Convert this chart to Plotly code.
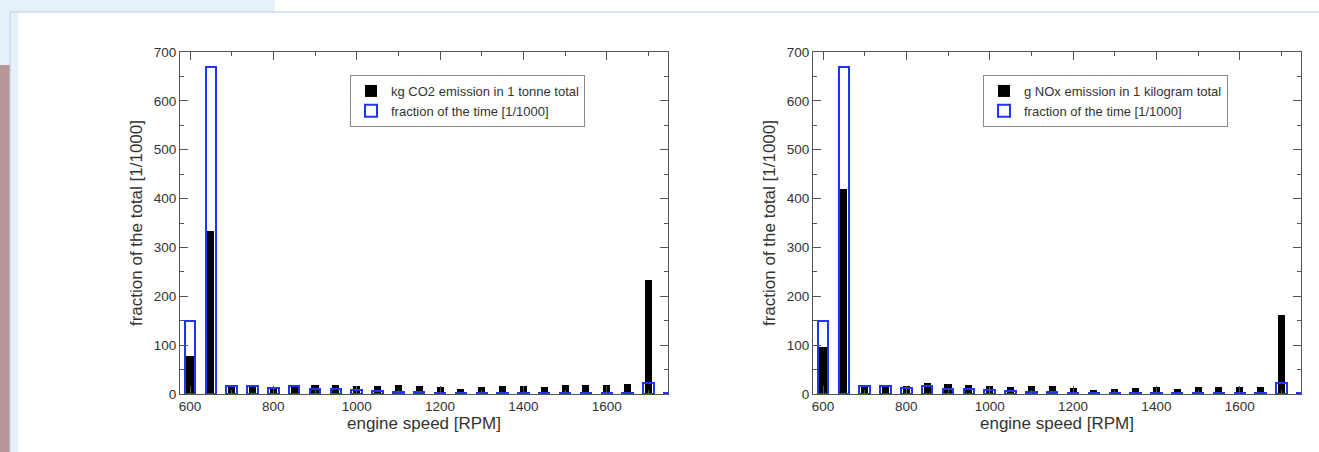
import plotly.graph_objects as go

W, H = 1319, 452

rpm = [600, 650, 700, 750, 800, 850, 900, 950, 1000, 1050, 1100, 1150, 1200,
       1250, 1300, 1350, 1400, 1450, 1500, 1550, 1600, 1650, 1700, 1750]

time_fraction = [150, 670, 16, 16, 13, 16, 11, 10, 8, 6, 5, 4, 3,
                 2, 2, 2, 2, 2, 2, 2, 2, 2, 22, 2]

co2_fraction = [77, 333, 16, 16, 13, 19, 18, 18, 16, 17, 18, 16, 15,
                10, 15, 16, 16, 14, 18, 18, 18, 21, 233, 1]

nox_fraction = [97, 420, 18, 18, 16, 23, 20, 18, 16, 14, 16, 16, 13,
                9, 11, 13, 14, 11, 15, 15, 14, 15, 162, 1]

x_ticks = [600, 800, 1000, 1200, 1400, 1600]
y_ticks = [0, 100, 200, 300, 400, 500, 600, 700]

co2_label = "kg CO2 emission in 1 tonne total"
nox_label = "g NOx emission in 1 kilogram total"
time_label = "fraction of the time [1/1000]"

BLUE = "#1f35f5"
FONT = "Liberation Sans, Arial, sans-serif"
TXT = "#333333"


def px_x(v):
    return v / W


def px_y(v):
    return 1 - v / H


fig = go.Figure()

panels = [
    ("x", "y", co2_fraction, co2_label, "legend", 180, 668, 350),
    ("x2", "y2", nox_fraction, nox_label, "legend2", 813, 1301, 983),
]

for xa, ya, vals, lab, leg, left, right, legx in panels:
    fig.add_trace(go.Bar(
        x=rpm, y=vals, width=17, name=lab, xaxis=xa, yaxis=ya,
        marker=dict(color="black", line=dict(width=0)), legend=leg,
    ))
    fig.add_trace(go.Bar(
        x=rpm, y=time_fraction, width=25, name=time_label, xaxis=xa, yaxis=ya,
        marker=dict(color="rgba(255,255,255,0)", line=dict(color=BLUE, width=2)),
        legend=leg,
    ))

axis_common = dict(
    showline=True, linecolor="#555555", linewidth=1, mirror="ticks",
    ticks="inside", ticklen=8, tickcolor="#555555", tickwidth=1,
    showgrid=False, zeroline=False, automargin=False,
    tickfont=dict(family=FONT, size=13.5, color=TXT),
)

layout = dict(
    width=W, height=H, barmode="overlay", bargap=0,
    margin=dict(l=0, r=0, t=0, b=0, autoexpand=False),
    paper_bgcolor="white", plot_bgcolor="white",
    font=dict(family=FONT, color=TXT),
)

for i, (xa, ya, vals, lab, leg, left, right, legx) in enumerate(panels):
    sx = "" if i == 0 else "2"
    layout["xaxis" + sx] = dict(
        axis_common, domain=[px_x(left), px_x(right)], range=[576, 1747],
        tickvals=x_ticks, anchor="y" + sx,
        minor=dict(ticks="inside", dtick=100, tick0=600, ticklen=4,
                   tickcolor="#555555"),
        title=dict(text="engine speed [RPM]", standoff=2,
                   font=dict(family=FONT, size=17, color=TXT)),
    )
    layout["yaxis" + sx] = dict(
        axis_common, domain=[px_y(394), px_y(52)], range=[0, 700],
        tickvals=y_ticks, anchor="x" + sx,
        minor=dict(ticks="inside", dtick=50, tick0=0, ticklen=4,
                   tickcolor="#555555"),
        title=dict(text="fraction of the total [1/1000]", standoff=6,
                   font=dict(family=FONT, size=17, color=TXT)),
    )
    layout[leg] = dict(
        x=px_x(legx), y=px_y(75), xanchor="left", yanchor="top",
        bgcolor="white", bordercolor="#888888", borderwidth=1,
        font=dict(family=FONT, size=13, color=TXT),
        tracegroupgap=0, itemwidth=30,
    )

fig.update_layout(**layout)

# page decoration around the chart
shapes = [
    dict(type="rect", xref="paper", yref="paper", x0=0, x1=px_x(275),
         y0=px_y(12), y1=1, fillcolor="#e6f0f9", line=dict(width=0), layer="below"),
    dict(type="rect", xref="paper", yref="paper", x0=0, x1=px_x(18),
         y0=px_y(65), y1=px_y(12), fillcolor="#e6f0f9", line=dict(width=0), layer="below"),
    dict(type="rect", xref="paper", yref="paper", x0=px_x(10), x1=px_x(18),
         y0=0, y1=px_y(65), fillcolor="#e6f0f9", line=dict(width=0), layer="below"),
    dict(type="rect", xref="paper", yref="paper", x0=0, x1=px_x(10),
         y0=0, y1=px_y(65), fillcolor="#b69696", line=dict(width=0), layer="below"),
    dict(type="line", xref="paper", yref="paper", x0=px_x(10), x1=1,
         y0=px_y(12), y1=px_y(12), line=dict(color="#b9cce9", width=1)),
    dict(type="line", xref="paper", yref="paper", x0=px_x(10), x1=px_x(10),
         y0=0, y1=px_y(12), line=dict(color="#b9cce9", width=1)),
]
fig.update_layout(shapes=shapes)

fig.write_html(
    "out.html",
    config={"displayModeBar": False},
    post_script="document.body.style.margin='0';document.body.style.overflow='hidden';",
)
